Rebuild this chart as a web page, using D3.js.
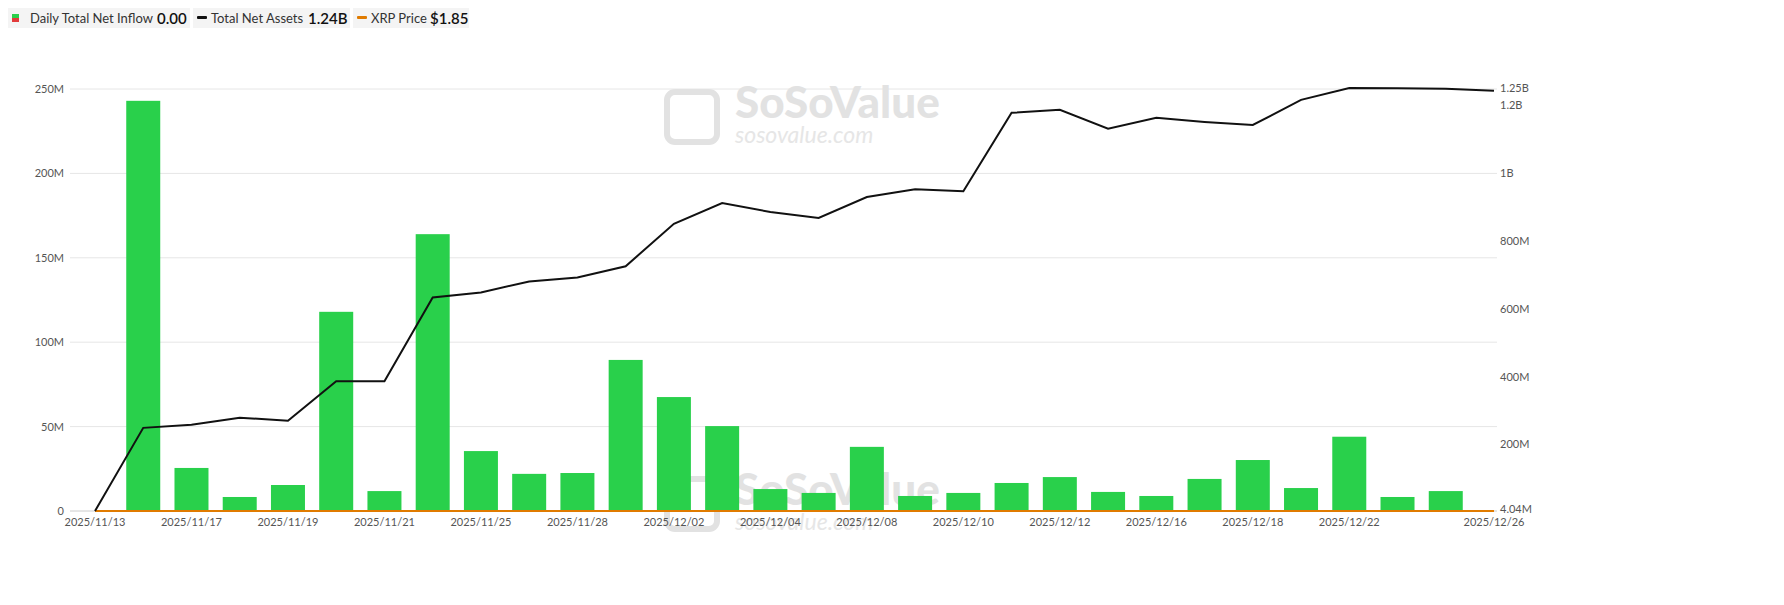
<!DOCTYPE html><html><head><meta charset="utf-8">
<script src="https://cdn.jsdelivr.net/npm/d3@7"></script>
<style>body{margin:0;background:#fff;font-family:Lato,"Noto Sans",sans-serif}</style></head><body>
<svg id="c" width="1784" height="605"></svg>
<script>
const dates=["2025/11/13","2025/11/14","2025/11/17","2025/11/18","2025/11/19","2025/11/20","2025/11/21","2025/11/24","2025/11/25","2025/11/26","2025/11/28","2025/12/01","2025/12/02","2025/12/03","2025/12/04","2025/12/05","2025/12/08","2025/12/09","2025/12/10","2025/12/11","2025/12/12","2025/12/15","2025/12/16","2025/12/17","2025/12/18","2025/12/19","2025/12/22","2025/12/23","2025/12/24","2025/12/26"];
const inflow=[0,243,25.5,8.3,15.4,118,11.8,164,35.5,22,22.5,89.5,67.5,50.3,13,10.7,38,8.9,10.7,16.6,20.1,11.3,8.9,19,30.2,13.6,44,8.3,11.8,0];
const assets=[4.04,249,258,279,270,386,386,633,648,680,692,725,850,911,885,867,929,952,946,1177,1186,1130,1162,1150,1141,1215,1250,1249,1248,1242];
const tickDates=["2025/11/13","2025/11/17","2025/11/19","2025/11/21","2025/11/25","2025/11/28","2025/12/02","2025/12/04","2025/12/08","2025/12/10","2025/12/12","2025/12/16","2025/12/18","2025/12/22","2025/12/26"];
const leftTicks=[0,50,100,150,200,250];
const rightTicks=[4.04,200,400,600,800,1000,1200,1250];
const rightLabels=["4.04M","200M","400M","600M","800M","1B","1.2B","1.25B"];
const svg=d3.select("#c");
const L=70,R=1497,T=89,B=511;
const x=d3.scalePoint().domain(dates).range([95,1494]);
const yL=d3.scaleLinear().domain([0,250]).range([B,T]);
const yR=d3.scaleLinear().domain([0,1250]).range([512.4,88]);
// grid
svg.append("g").selectAll("line").data(leftTicks).join("line").attr("x1",L).attr("x2",R)
 .attr("y1",d=>yL(d)).attr("y2",d=>yL(d)).attr("stroke",d=>d==0?"#ccc":"#e6e6e6");
// watermarks
[[735,118,44,23],[735,505,44,23]].forEach(([wx,wy,fs,fs2])=>{
 svg.append("text").attr("x",wx).attr("y",wy).attr("font-size",fs).attr("font-weight",900).attr("fill","#e2e2e2").text("SoSoValue");
 svg.append("text").attr("x",wx).attr("y",wy+25).attr("font-size",fs2).attr("font-style","italic").attr("fill","#e6e6e6").text("sosovalue.com");
 svg.append("rect").attr("x",wx-68).attr("y",wy-26).attr("width",50).attr("height",50).attr("rx",8).attr("fill","none").attr("stroke","#e2e2e2").attr("stroke-width",6);
});
// bars
const bw=34;
svg.append("g").selectAll("rect").data(dates.map((d,i)=>({d,v:inflow[i]})).filter(o=>o.v>0)).join("rect")
 .attr("x",o=>x(o.d)-bw/2).attr("width",bw).attr("y",o=>yL(o.v)).attr("height",o=>B-yL(o.v)).attr("fill","#29d04b");
// price line
svg.append("line").attr("x1",95).attr("x2",1494).attr("y1",B).attr("y2",B).attr("stroke","#e07b00").attr("stroke-width",2);
// assets line
svg.append("path").datum(dates.map((d,i)=>[x(d),yR(assets[i])])).attr("d",d3.line()).attr("fill","none").attr("stroke","#111").attr("stroke-width",2);
// axes
const ta={"font-size":11,"fill":"#555"};
svg.append("g").selectAll("text").data(leftTicks).join("text").attr("x",64).attr("y",d=>yL(d)+4).attr("text-anchor","end")
 .attr("font-size",11).attr("fill","#555").text(d=>d==0?"0":d+"M");
svg.append("g").selectAll("text").data(rightTicks).join("text").attr("x",1500).attr("y",(d,i)=>yR(d)+4+(i==0?-2:0)).attr("text-anchor","start")
 .attr("font-size",11).attr("fill","#555").text((d,i)=>rightLabels[i]);
svg.append("g").selectAll("text").data(tickDates).join("text").attr("x",d=>x(d)).attr("y",526).attr("text-anchor",(d,i)=>i==tickDates.length-1?"middle":"middle")
 .attr("font-size",11).attr("fill","#555").text(d=>d);
// legend
const lg=svg.append("g");
lg.append("rect").attr("x",8).attr("y",8).attr("width",182).attr("height",20).attr("fill","#f4f4f4");
lg.append("rect").attr("x",12).attr("y",14).attr("width",7).attr("height",4).attr("fill","#29d04b");
lg.append("rect").attr("x",12).attr("y",18).attr("width",7).attr("height",4).attr("fill","#e23b3b");
lg.append("text").attr("x",30).attr("y",23).attr("font-size",13).attr("fill","#333").text("Daily Total Net Inflow");
lg.append("text").attr("x",157).attr("y",24).attr("font-size",15).attr("font-weight",600).attr("fill","#111").text("0.00");
lg.append("rect").attr("x",193).attr("y",8).attr("width",157).attr("height",20).attr("fill","#f4f4f4");
lg.append("rect").attr("x",197).attr("y",16).attr("width",10).attr("height",3).attr("rx",1).attr("fill","#111");
lg.append("text").attr("x",211).attr("y",23).attr("font-size",13).attr("fill","#333").text("Total Net Assets");
lg.append("text").attr("x",308).attr("y",24).attr("font-size",15).attr("font-weight",600).attr("fill","#111").text("1.24B");
lg.append("rect").attr("x",353).attr("y",8).attr("width",116).attr("height",20).attr("fill","#f4f4f4");
lg.append("rect").attr("x",357).attr("y",16).attr("width",10).attr("height",3).attr("rx",1).attr("fill","#e07b00");
lg.append("text").attr("x",371).attr("y",23).attr("font-size",13).attr("fill","#333").text("XRP Price");
lg.append("text").attr("x",430).attr("y",24).attr("font-size",15).attr("font-weight",600).attr("fill","#111").text("$1.85");
</script></body></html>
